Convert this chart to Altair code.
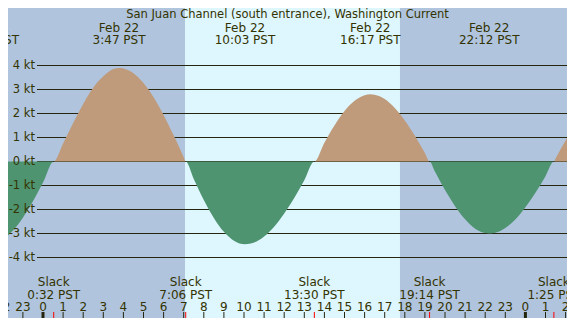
import altair as alt
import pandas as pd

# ---- chart geometry: the page adds an 8px margin all round, so the chart is 559 x 310 ----
W, H = 559, 310
X_DOMAIN = [-35 / 20.1, 524 / 20.1]          # hours relative to Feb 22 00:00 PST
Y_DOMAIN = [(153.5 - 310) / 24, 153.5 / 24]  # knots

TITLE = "San Juan Channel (south entrance), Washington Current"

# ---- current curve (hours from Feb 22 00:00 PST, knots; + flood, - ebb) ----
hours = [-3.0, -2.7, -2.5, -2.0, -1.5, -1.0, -0.5, 0.0, 0.533, 1.0, 1.5, 2.0, 2.5, 3.0, 3.5,
         3.783, 4.0, 4.5, 5.0, 5.5, 6.0, 6.5, 7.0, 7.1, 7.5, 8.0, 8.5, 9.0, 9.5, 10.05,
         10.5, 11.0, 11.5, 12.0, 12.5, 13.0, 13.5, 14.0, 14.5, 15.0, 15.5, 16.0, 16.283,
         16.5, 17.0, 17.5, 18.0, 18.5, 19.0, 19.233, 19.5, 20.0, 20.5, 21.0, 21.5, 22.0,
         22.2, 22.5, 23.0, 23.5, 24.0, 24.5, 25.0, 25.417, 25.5, 26.0, 26.5, 27.0]
knots = [-3.40, -3.45, -3.43, -3.25, -2.88, -2.34, -1.66, -0.88, 0.0, 0.75, 1.60, 2.40, 3.08,
         3.55, 3.85, 3.90, 3.88, 3.68, 3.27, 2.68, 1.94, 1.09, 0.18, 0.0, -0.73, -1.60,
         -2.35, -2.93, -3.30, -3.45, -3.38, -3.13, -2.72, -2.17, -1.52, -0.78, 0.0, 0.78,
         1.50, 2.10, 2.53, 2.76, 2.80, 2.78, 2.60, 2.23, 1.71, 1.07, 0.35, 0.0, -0.42,
         -1.19, -1.86, -2.41, -2.80, -2.98, -3.00, -2.97, -2.77, -2.42, -1.91, -1.30,
         -0.61, 0.0, 0.13, 0.88, 1.58, 2.20]

# ---- events ----
max_hours = [-2.7, 3.783, 10.05, 16.283, 22.2]
max_dates = ["Feb 21", "Feb 22", "Feb 22", "Feb 22", "Feb 22"]
max_times = ["21:18 PST", "3:47 PST", "10:03 PST", "16:17 PST", "22:12 PST"]

slack_hours = [0.533, 7.1, 13.5, 19.233, 25.417]
slack_times = ["0:32 PST", "7:06 PST", "13:30 PST", "19:14 PST", "1:25 PST"]

day_start = [7.065]
day_end = [17.76]

tick_hours = list(range(-2, 27))
tick_labels = [str(h % 24) for h in tick_hours]
midnight_hours = [0, 24]

kt_levels = [4, 3, 2, 1, 0, -1, -2, -3, -4]
kt_labels = ["4 kt", "3 kt", "2 kt", "1 kt", "0 kt", "-1 kt", "-2 kt", "-3 kt", "-4 kt"]

NIGHT = "#b0c4de"
DAY = "#def6fe"
FLOOD = "#bf9b7b"
EBB = "#4f9470"
INK = "#333300"
LINE = "#26260f"
FONT = "DejaVu Sans"
FS = 12

xs = alt.Scale(domain=X_DOMAIN, nice=False, zero=False)
ys = alt.Scale(domain=Y_DOMAIN, nice=False, zero=False)

curve = pd.DataFrame({"h": hours, "kt": knots})
events = pd.DataFrame({"h": max_hours, "date": max_dates, "time": max_times})
slacks = pd.DataFrame({"h": slack_hours, "time": slack_times, "word": ["Slack"] * len(slack_hours)})
days = pd.DataFrame({"h": day_start, "h2": day_end})
ticks = pd.DataFrame({"h": tick_hours, "lab": tick_labels})
mids = pd.DataFrame({"h": midnight_hours})
levels = pd.DataFrame({"kt": kt_levels, "lab": kt_labels})


def txt(df, **kw):
    return alt.Chart(df).mark_text(baseline="middle", font=FONT, color=INK,
                                   **({"align": "center", "fontSize": FS} | kw))


day_bg = alt.Chart(days).mark_rect(color=DAY, clip=True).encode(
    x=alt.X("h:Q", scale=xs, axis=None), x2="h2:Q",
    y=alt.value(0), y2=alt.value(H))

grid = alt.Chart(levels).mark_rule(color=LINE, strokeWidth=1).encode(
    y=alt.Y("kt:Q", scale=ys, axis=None), x=alt.value(29), x2=alt.value(W))

ylab = txt(levels, align="right", fontSize=11.5).encode(
    y=alt.Y("kt:Q", scale=ys, axis=None), x=alt.value(27), text="lab:N")

flood = alt.Chart(curve).transform_calculate(v="max(datum.kt, 0)").mark_area(
    color=FLOOD, interpolate="monotone", clip=True).encode(
    x=alt.X("h:Q", scale=xs, axis=None), y=alt.Y("v:Q", scale=ys, axis=None), y2=alt.datum(0))

ebb = alt.Chart(curve).transform_calculate(v="min(datum.kt, 0)").mark_area(
    color=EBB, interpolate="monotone", clip=True).encode(
    x=alt.X("h:Q", scale=xs, axis=None), y=alt.Y("v:Q", scale=ys, axis=None), y2=alt.datum(0))

title = txt(pd.DataFrame({"t": [TITLE]}), fontSize=11.5).encode(
    x=alt.value(279.5), y=alt.value(7), text="t:N")

ev_date = txt(events).encode(x=alt.X("h:Q", scale=xs, axis=None), y=alt.value(19.5), text="date:N")
ev_time = txt(events).encode(x=alt.X("h:Q", scale=xs, axis=None), y=alt.value(32), text="time:N")

sl_word = txt(slacks).encode(x=alt.X("h:Q", scale=xs, axis=None), y=alt.value(274), text="word:N")
sl_time = txt(slacks).encode(x=alt.X("h:Q", scale=xs, axis=None), y=alt.value(286.5), text="time:N")

hour_lab = txt(ticks).encode(x=alt.X("h:Q", scale=xs, axis=None), y=alt.value(299), text="lab:N")
hour_tick = alt.Chart(ticks).mark_rule(color=LINE, strokeWidth=1).encode(
    x=alt.X("h:Q", scale=xs, axis=None), y=alt.value(304), y2=alt.value(H))
mid_tick = alt.Chart(mids).mark_rule(color=LINE, strokeWidth=3).encode(
    x=alt.X("h:Q", scale=xs, axis=None), y=alt.value(304), y2=alt.value(H))
slack_tick = alt.Chart(slacks).mark_rule(color="#ff0000", strokeWidth=1).encode(
    x=alt.X("h:Q", scale=xs, axis=None), y=alt.value(304), y2=alt.value(H))

chart = alt.layer(
    day_bg, grid, flood, ebb, ylab, title, ev_date, ev_time,
    sl_word, sl_time, hour_lab, hour_tick, mid_tick, slack_tick
).properties(
    width=W, height=H, padding=0, autosize=alt.AutoSizeParams(type="none"),
    background=NIGHT
).configure_view(stroke=None)

chart.save("out.html", embed_options={"renderer": "svg", "actions": False})
